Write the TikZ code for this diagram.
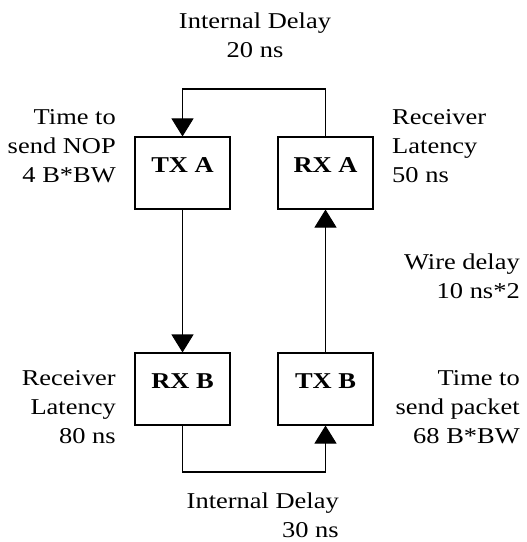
\documentclass[tikz,border=0pt]{standalone}
\usepackage{fontspec}
\setmainfont[FakeStretch=1.17]{Liberation Serif}
\usetikzlibrary{arrows.meta,positioning}

\begin{document}
\begin{tikzpicture}[x=0.03cm,y=-0.03cm,
  block/.style={draw,line width=0.9pt,minimum width=2.85cm,minimum height=2.16cm,
    inner sep=0pt,font=\fontsize{19.3}{25}\selectfont\bfseries,text depth=0.45cm},
  note/.style={inner sep=0pt,font=\fontsize{19.3}{24.7}\selectfont},
  flow/.style={line width=0.9pt,-{Triangle[length=0.54cm,width=0.66cm]}}]

\useasboundingbox (0,0) rectangle (526,542);

% the four boxes
\node[block] (txa) at (182.5,173) {TX A};
\node[block] (rxa) at (325.5,173) {RX A};
\node[block] (rxb) at (182.5,389) {RX B};
\node[block] (txb) at (325.5,389) {TX B};

% connections
\coordinate (topmid) at (254,89);
\coordinate (botmid) at (254,472);
\draw[flow] (rxa.north) |- (topmid) -| (txa.north);
\draw[flow] (txa.south) -- (rxb.north);
\draw[flow] (txb.north) -- (rxa.south);
\draw[flow] (rxb.south) |- (botmid) -| (txb.south);

% delays
\node[note,align=center] (intA) at (255,35) {Internal Delay\\20 ns};
\node[note,align=right,anchor=east] (sendnop) at (116,146) {Time to\\send NOP\\4 B*BW};
\node[note,align=left,anchor=west] (latA) at (392,146) {Receiver\\Latency\\50 ns};
\node[note,align=right,anchor=east] (wire) at (520,276) {Wire delay\\10 ns*2};
\node[note,align=right,anchor=east] (latB) at (116,407) {Receiver\\Latency\\80 ns};
\node[note,align=right,anchor=east] (sendpkt) at (520,407) {Time to\\send packet\\68 B*BW};
\node[note,align=right,anchor=east] (intB) at (339,515) {Internal Delay\\30 ns};

\end{tikzpicture}
\end{document}
